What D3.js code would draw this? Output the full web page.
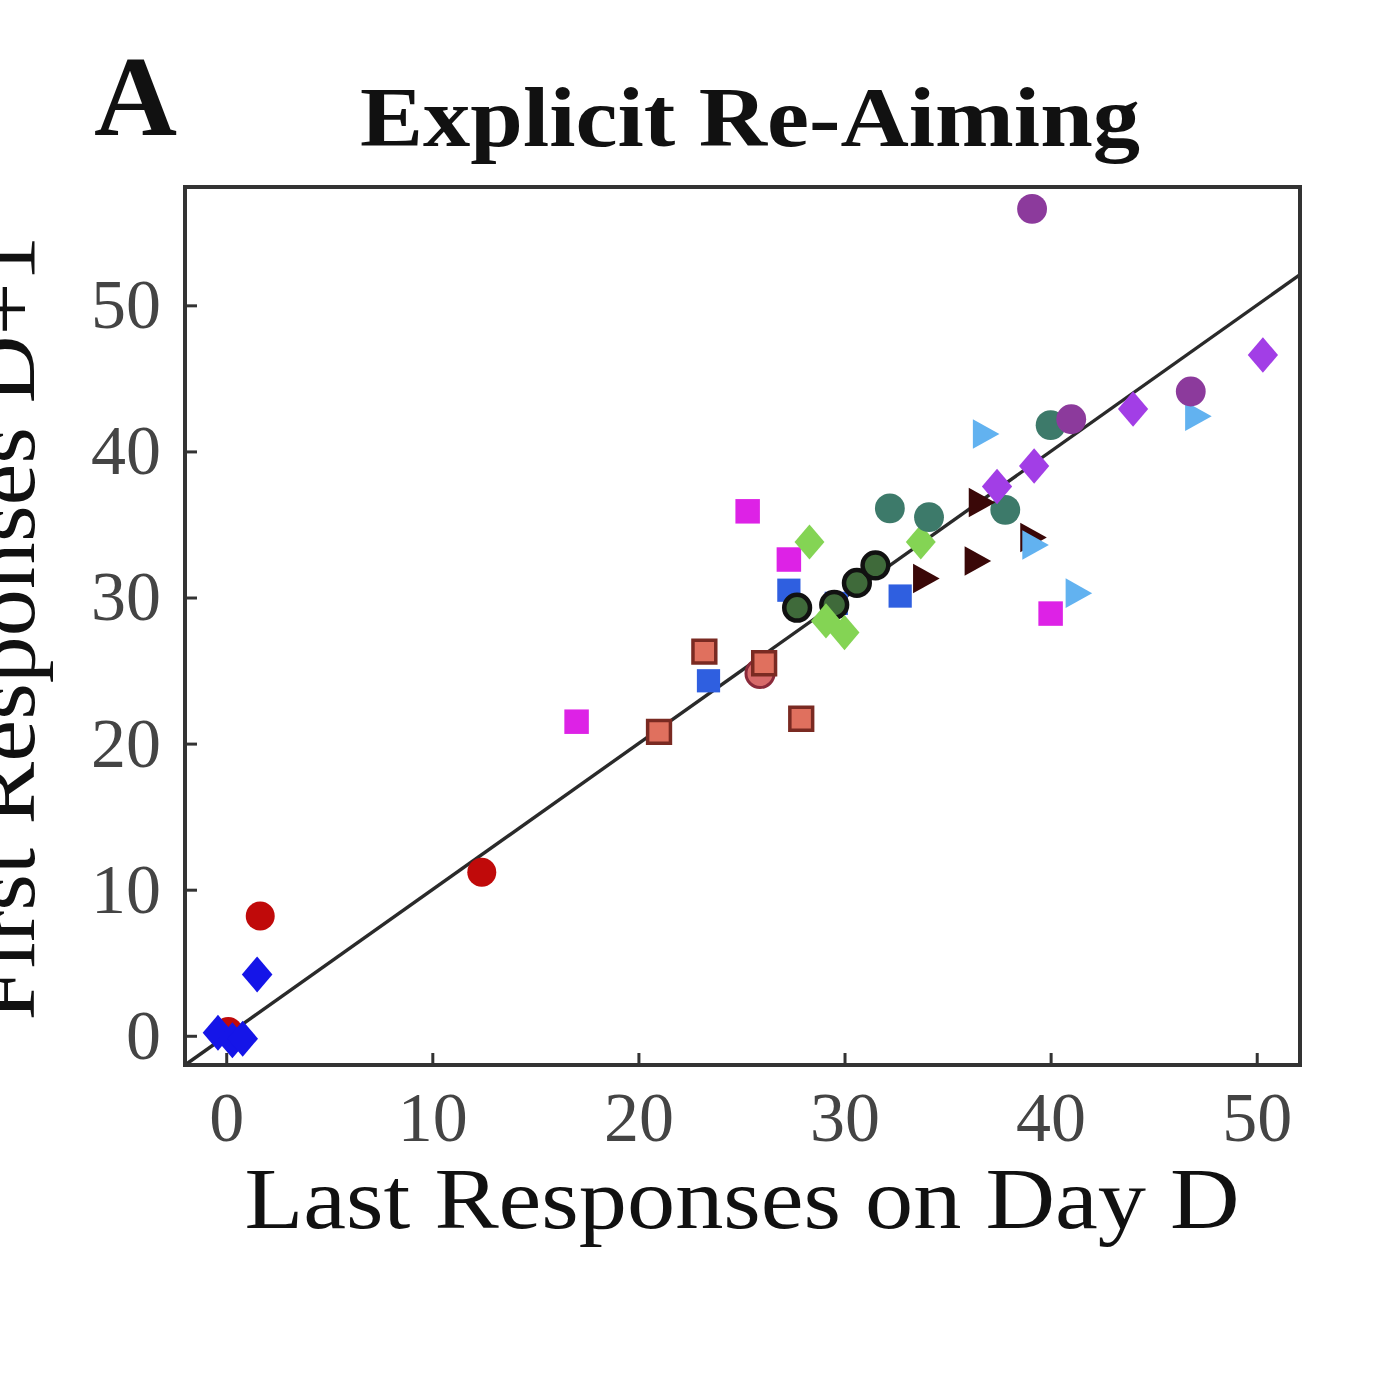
<!DOCTYPE html>
<html><head><meta charset="utf-8">
<script src="https://cdn.jsdelivr.net/npm/d3@7"></script>
<style>body{margin:0;background:#fff}svg{display:block}</style>
</head><body>
<svg id="c" width="1400" height="1400"></svg>
<script>
// ---- data ----
const xTicks = [0, 10, 20, 30, 40, 50];
const yTicks = [0, 10, 20, 30, 40, 50];
const redCircles = [[0.1, 0.3], [1.65, 8.2], [12.4, 11.2]];
const blueDiamonds = [[-0.4, 0.2], [0.3, -0.3], [0.8, -0.2], [1.5, 4.2]];
const salmonCircles = [[25.9, 24.8]];
const salmonSquares = [[23.2, 26.3], [26.1, 25.5], [21.0, 20.8], [27.9, 21.7]];
const magentaSquares = [[17.0, 21.5], [25.3, 35.9], [27.3, 32.6], [40.0, 28.9]];
const royalSquares = [[23.4, 24.3], [27.3, 30.5], [32.7, 30.1], [29.6, 29.6]];
const darkGreenCircles = [[27.7, 29.3], [29.5, 29.5], [30.6, 31.0], [31.5, 32.2]];
const lightGreenDiamonds = [[28.3, 33.8], [29.1, 28.4], [30.0, 27.6], [33.7, 33.8]];
const tealCircles = [[32.2, 36.1], [34.1, 35.5], [37.8, 36.0], [40.0, 41.8]];
const maroonTriangles = [[33.9, 31.3], [36.4, 32.5], [36.6, 36.5], [39.1, 34.1]];
const skyTriangles = [[36.8, 41.2], [39.2, 33.6], [41.3, 30.3], [47.1, 42.4]];
const purpleDiamonds = [[37.4, 37.6], [39.2, 39.0], [44.0, 42.9], [50.3, 46.6]];
const plumCircles = [[39.1, 56.6], [41.0, 42.2], [46.8, 44.1]];

const svg = d3.select("#c");
const L = 185, R = 1300, T = 187, B = 1065;
const x = d3.scaleLinear([-2, 52.1], [L, R]);
const y = d3.scaleLinear([-2, 58.1], [B, T]);
const serif = "'Liberation Serif', 'DejaVu Serif', serif";

// custom symbols
const diamond = { draw(ctx, size) { const h = Math.sqrt(size) * 0.6, w = h * 0.85;
  ctx.moveTo(0, -h); ctx.lineTo(w, 0); ctx.lineTo(0, h); ctx.lineTo(-w, 0); ctx.closePath(); } };
const triRight = { draw(ctx, size) { const s = Math.sqrt(size) * 0.55;
  ctx.moveTo(s, 0); ctx.lineTo(-s * 0.8, -s); ctx.lineTo(-s * 0.8, s); ctx.closePath(); } };

// identity line
svg.append("line").attr("x1", x(-2)).attr("y1", y(-2)).attr("x2", x(52.1)).attr("y2", y(52.1))
  .attr("stroke", "#2a2a2a").attr("stroke-width", 3.4);

const series = [
  { d: redCircles, type: d3.symbolCircle, size: 660, fill: "#c00a0a", stroke: "none" },
  { d: blueDiamonds, type: diamond, size: 900, fill: "#1515e8", stroke: "none" },
  { d: salmonCircles, type: d3.symbolCircle, size: 620, fill: "#d86a6a", stroke: "#8a2a3a", sw: 3 },
  { d: salmonSquares, type: d3.symbolSquare, size: 520, fill: "#e0705e", stroke: "#7a2a22", sw: 3.5 },
  { d: magentaSquares, type: d3.symbolSquare, size: 600, fill: "#dd22e6", stroke: "none" },
  { d: royalSquares, type: d3.symbolSquare, size: 540, fill: "#2f5fe0", stroke: "none" },
  { d: darkGreenCircles, type: d3.symbolCircle, size: 520, fill: "#3f6a3a", stroke: "#111", sw: 4.5 },
  { d: lightGreenDiamonds, type: diamond, size: 860, fill: "#84d454", stroke: "none" },
  { d: tealCircles, type: d3.symbolCircle, size: 700, fill: "#3d7a6a", stroke: "none" },
  { d: maroonTriangles, type: triRight, size: 720, fill: "#3a0808", stroke: "none" },
  { d: skyTriangles, type: triRight, size: 720, fill: "#62b2f0", stroke: "none" },
  { d: purpleDiamonds, type: diamond, size: 880, fill: "#a23ee6", stroke: "none" },
  { d: plumCircles, type: d3.symbolCircle, size: 700, fill: "#8c3a9c", stroke: "none" },
];
series.forEach(s => {
  svg.append("g").selectAll("path").data(s.d).join("path")
    .attr("transform", d => `translate(${x(d[0])},${y(d[1])})`)
    .attr("d", d3.symbol(s.type, s.size))
    .attr("fill", s.fill).attr("stroke", s.stroke).attr("stroke-width", s.sw || 0);
});

// axes with inward ticks
const gx = svg.append("g").attr("transform", `translate(0,${B})`)
  .call(d3.axisBottom(x).tickValues(xTicks).tickSize(-12).tickPadding(26));
const gy = svg.append("g").attr("transform", `translate(${L},0)`)
  .call(d3.axisLeft(y).tickValues(yTicks).tickSize(-12).tickPadding(24));
[gx, gy].forEach(g => {
  g.select(".domain").remove();
  g.selectAll(".tick line").attr("stroke", "#333").attr("stroke-width", 3);
  g.selectAll(".tick text").attr("font-family", serif).attr("font-size", 70).attr("fill", "#444");
});

// frame
svg.append("rect").attr("x", L).attr("y", T).attr("width", R - L).attr("height", B - T)
  .attr("fill", "none").attr("stroke", "#333").attr("stroke-width", 4);

// texts
svg.append("text").attr("x", 94).attr("y", 135).attr("font-family", serif).attr("font-weight", "bold")
  .attr("font-size", 115).attr("fill", "#111").text("A");
svg.append("text").attr("x", 750).attr("y", 146).attr("text-anchor", "middle").attr("font-family", serif)
  .attr("font-weight", "bold").attr("font-size", 84).attr("fill", "#111")
  .attr("textLength", 780).attr("lengthAdjust", "spacingAndGlyphs").text("Explicit Re-Aiming");
svg.append("text").attr("x", 742).attr("y", 1228).attr("text-anchor", "middle").attr("font-family", serif)
  .attr("font-size", 86).attr("fill", "#111")
  .attr("textLength", 995).attr("lengthAdjust", "spacingAndGlyphs").text("Last Responses on Day D");
svg.append("text").attr("transform", "translate(34,628) rotate(-90)").attr("text-anchor", "middle")
  .attr("font-family", serif).attr("font-size", 86).attr("fill", "#111")
  .attr("textLength", 785).attr("lengthAdjust", "spacingAndGlyphs").text("First Responses D+1");
</script>
</body></html>
